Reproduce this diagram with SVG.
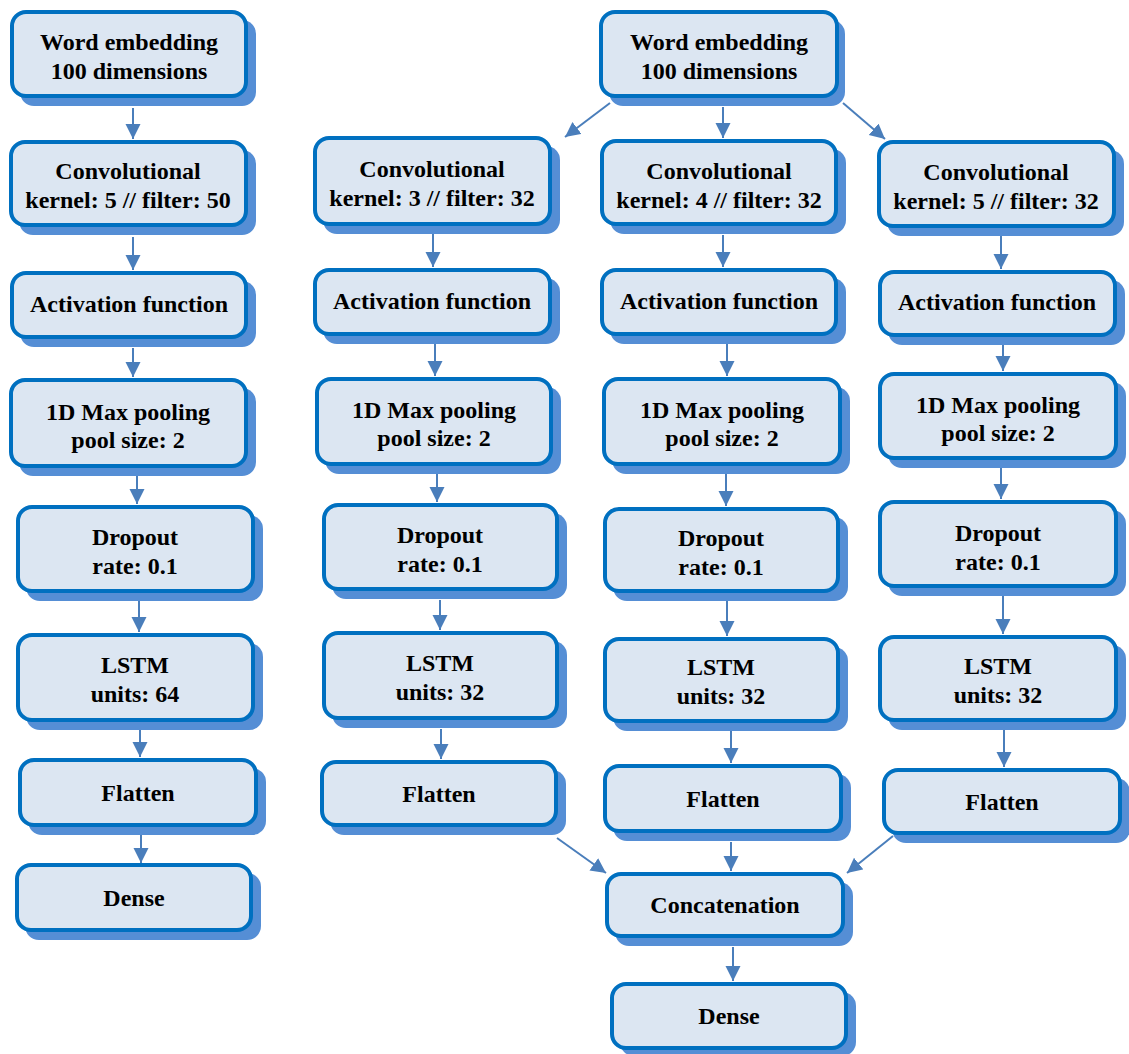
<svg xmlns="http://www.w3.org/2000/svg" width="1129" height="1054" viewBox="0 0 1129 1054">
<style>
.sh{fill:#558ED5;}
.bx{fill:#DCE6F2;stroke:#0070C0;stroke-width:4;}
.t{font-family:"Liberation Serif","Times New Roman",serif;font-weight:bold;font-size:24px;fill:#000;text-anchor:middle;}
.c{stroke:#4A7EBB;stroke-width:2;fill:none;marker-end:url(#ah);}
</style>
<defs>
<marker id="ah" markerUnits="userSpaceOnUse" markerWidth="16" markerHeight="16" refX="15" refY="7.5" orient="auto">
<path d="M0,0 L15,7.5 L0,15 z" fill="#4A7EBB"/>
</marker>
</defs>
<rect width="1129" height="1054" fill="#fff"/>

<g id="connectors">
<line class="c" x1="133" y1="108" x2="133" y2="139"/>
<line class="c" x1="133" y1="237" x2="133" y2="270"/>
<line class="c" x1="133" y1="348" x2="133" y2="377"/>
<line class="c" x1="137" y1="476" x2="137" y2="504"/>
<line class="c" x1="139" y1="601" x2="139" y2="632"/>
<line class="c" x1="140" y1="730" x2="140" y2="757"/>
<line class="c" x1="141" y1="835" x2="141" y2="863"/>

<line class="c" x1="610" y1="103" x2="565" y2="137"/>
<line class="c" x1="433" y1="234" x2="433" y2="267"/>
<line class="c" x1="435" y1="344" x2="435" y2="376"/>
<line class="c" x1="437" y1="474" x2="437" y2="502"/>
<line class="c" x1="440" y1="600" x2="440" y2="630"/>
<line class="c" x1="441" y1="729" x2="441" y2="759"/>

<line class="c" x1="723" y1="107" x2="723" y2="138"/>
<line class="c" x1="723" y1="235" x2="723" y2="267"/>
<line class="c" x1="727" y1="344" x2="727" y2="376"/>
<line class="c" x1="726" y1="474" x2="726" y2="506"/>
<line class="c" x1="727" y1="601" x2="727" y2="636"/>
<line class="c" x1="731" y1="731" x2="731" y2="763"/>

<line class="c" x1="843" y1="103" x2="885" y2="139"/>
<line class="c" x1="1001" y1="236" x2="1001" y2="269"/>
<line class="c" x1="1003" y1="345" x2="1003" y2="371"/>
<line class="c" x1="1001" y1="468" x2="1001" y2="499"/>
<line class="c" x1="1003" y1="596" x2="1003" y2="634"/>
<line class="c" x1="1004" y1="730" x2="1004" y2="767"/>

<line class="c" x1="557" y1="838" x2="606" y2="873"/>
<line class="c" x1="731" y1="842" x2="731" y2="871"/>
<line class="c" x1="893" y1="836" x2="847" y2="873"/>
<line class="c" x1="733" y1="947" x2="733" y2="981"/>
</g>

<!-- Column A -->
<g id="a-word">
<rect class="sh" x="20" y="20" width="236" height="86" rx="14"/>
<rect class="bx" x="12" y="12" width="234" height="84" rx="14"/>
<text class="t" x="129" y="50">Word embedding</text>
<text class="t" x="129" y="79">100 dimensions</text>
</g>
<g id="a-conv">
<rect class="sh" x="19" y="150" width="237" height="85" rx="14"/>
<rect class="bx" x="11" y="142" width="235" height="83" rx="14"/>
<text class="t" x="128" y="179">Convolutional</text>
<text class="t" x="128" y="208">kernel: 5 // filter: 50</text>
</g>
<g id="a-act">
<rect class="sh" x="20" y="281" width="236" height="66" rx="14"/>
<rect class="bx" x="12" y="273" width="234" height="64" rx="14"/>
<text class="t" x="129" y="312">Activation function</text>
</g>
<g id="a-pool">
<rect class="sh" x="19" y="388" width="237" height="88" rx="14"/>
<rect class="bx" x="11" y="380" width="235" height="86" rx="14"/>
<text class="t" x="128" y="420">1D Max pooling</text>
<text class="t" x="128" y="448">pool size: 2</text>
</g>
<g id="a-drop">
<rect class="sh" x="26" y="515" width="237" height="86" rx="14"/>
<rect class="bx" x="18" y="507" width="235" height="84" rx="14"/>
<text class="t" x="135" y="545">Dropout</text>
<text class="t" x="135" y="574">rate: 0.1</text>
</g>
<g id="a-lstm">
<rect class="sh" x="26" y="643" width="237" height="87" rx="14"/>
<rect class="bx" x="18" y="635" width="235" height="85" rx="14"/>
<text class="t" x="135" y="673">LSTM</text>
<text class="t" x="135" y="702">units: 64</text>
</g>
<g id="a-flat">
<rect class="sh" x="28" y="768" width="238" height="67" rx="14"/>
<rect class="bx" x="20" y="760" width="236" height="65" rx="14"/>
<text class="t" x="138" y="801">Flatten</text>
</g>
<g id="a-dense">
<rect class="sh" x="25" y="873" width="236" height="67" rx="14"/>
<rect class="bx" x="17" y="865" width="234" height="65" rx="14"/>
<text class="t" x="134" y="906">Dense</text>
</g>

<!-- Top -->
<g id="word">
<rect class="sh" x="609" y="20" width="236" height="86" rx="14"/>
<rect class="bx" x="601" y="12" width="236" height="84" rx="14"/>
<text class="t" x="719" y="50">Word embedding</text>
<text class="t" x="719" y="79">100 dimensions</text>
</g>

<!-- Column B -->
<g id="b-conv">
<rect class="sh" x="323" y="146" width="237" height="88" rx="14"/>
<rect class="bx" x="315" y="138" width="235" height="86" rx="14"/>
<text class="t" x="432" y="177">Convolutional</text>
<text class="t" x="432" y="206">kernel: 3 // filter: 32</text>
</g>
<g id="b-act">
<rect class="sh" x="323" y="278" width="237" height="66" rx="14"/>
<rect class="bx" x="315" y="270" width="235" height="64" rx="14"/>
<text class="t" x="432" y="309">Activation function</text>
</g>
<g id="b-pool">
<rect class="sh" x="325" y="387" width="236" height="87" rx="14"/>
<rect class="bx" x="317" y="379" width="234" height="85" rx="14"/>
<text class="t" x="434" y="418">1D Max pooling</text>
<text class="t" x="434" y="446">pool size: 2</text>
</g>
<g id="b-drop">
<rect class="sh" x="332" y="513" width="235" height="86" rx="14"/>
<rect class="bx" x="324" y="505" width="233" height="84" rx="14"/>
<text class="t" x="440" y="543">Dropout</text>
<text class="t" x="440" y="572">rate: 0.1</text>
</g>
<g id="b-lstm">
<rect class="sh" x="332" y="641" width="235" height="87" rx="14"/>
<rect class="bx" x="324" y="633" width="233" height="85" rx="14"/>
<text class="t" x="440" y="671">LSTM</text>
<text class="t" x="440" y="700">units: 32</text>
</g>
<g id="b-flat">
<rect class="sh" x="330" y="770" width="236" height="65" rx="14"/>
<rect class="bx" x="322" y="762" width="234" height="63" rx="14"/>
<text class="t" x="439" y="802">Flatten</text>
</g>

<!-- Column C -->
<g id="c-conv">
<rect class="sh" x="610" y="149" width="236" height="85" rx="14"/>
<rect class="bx" x="602" y="141" width="234" height="83" rx="14"/>
<text class="t" x="719" y="179">Convolutional</text>
<text class="t" x="719" y="208">kernel: 4 // filter: 32</text>
</g>
<g id="c-act">
<rect class="sh" x="610" y="278" width="236" height="66" rx="14"/>
<rect class="bx" x="602" y="270" width="234" height="64" rx="14"/>
<text class="t" x="719" y="309">Activation function</text>
</g>
<g id="c-pool">
<rect class="sh" x="612" y="387" width="238" height="87" rx="14"/>
<rect class="bx" x="604" y="379" width="236" height="85" rx="14"/>
<text class="t" x="722" y="418">1D Max pooling</text>
<text class="t" x="722" y="446">pool size: 2</text>
</g>
<g id="c-drop">
<rect class="sh" x="613" y="517" width="235" height="84" rx="14"/>
<rect class="bx" x="605" y="509" width="233" height="82" rx="14"/>
<text class="t" x="721" y="546">Dropout</text>
<text class="t" x="721" y="575">rate: 0.1</text>
</g>
<g id="c-lstm">
<rect class="sh" x="613" y="647" width="235" height="84" rx="14"/>
<rect class="bx" x="605" y="639" width="233" height="82" rx="14"/>
<text class="t" x="721" y="675">LSTM</text>
<text class="t" x="721" y="704">units: 32</text>
</g>
<g id="c-flat">
<rect class="sh" x="613" y="774" width="238" height="67" rx="14"/>
<rect class="bx" x="605" y="766" width="236" height="65" rx="14"/>
<text class="t" x="723" y="807">Flatten</text>
</g>

<!-- Column D -->
<g id="d-conv">
<rect class="sh" x="887" y="150" width="237" height="86" rx="14"/>
<rect class="bx" x="879" y="142" width="235" height="84" rx="14"/>
<text class="t" x="996" y="180">Convolutional</text>
<text class="t" x="996" y="209">kernel: 5 // filter: 32</text>
</g>
<g id="d-act">
<rect class="sh" x="888" y="280" width="237" height="65" rx="14"/>
<rect class="bx" x="880" y="272" width="235" height="63" rx="14"/>
<text class="t" x="997" y="310">Activation function</text>
</g>
<g id="d-pool">
<rect class="sh" x="888" y="382" width="238" height="86" rx="14"/>
<rect class="bx" x="880" y="374" width="236" height="84" rx="14"/>
<text class="t" x="998" y="413">1D Max pooling</text>
<text class="t" x="998" y="441">pool size: 2</text>
</g>
<g id="d-drop">
<rect class="sh" x="888" y="510" width="238" height="86" rx="14"/>
<rect class="bx" x="880" y="502" width="236" height="84" rx="14"/>
<text class="t" x="998" y="541">Dropout</text>
<text class="t" x="998" y="570">rate: 0.1</text>
</g>
<g id="d-lstm">
<rect class="sh" x="888" y="645" width="238" height="85" rx="14"/>
<rect class="bx" x="880" y="637" width="236" height="83" rx="14"/>
<text class="t" x="998" y="674">LSTM</text>
<text class="t" x="998" y="703">units: 32</text>
</g>
<g id="d-flat">
<rect class="sh" x="892" y="778" width="238" height="65" rx="14"/>
<rect class="bx" x="884" y="770" width="236" height="63" rx="14"/>
<text class="t" x="1002" y="810">Flatten</text>
</g>

<!-- Bottom -->
<g id="concat">
<rect class="sh" x="615" y="882" width="238" height="64" rx="14"/>
<rect class="bx" x="607" y="874" width="236" height="62" rx="14"/>
<text class="t" x="725" y="913">Concatenation</text>
</g>
<g id="dense">
<rect class="sh" x="620" y="992" width="236" height="64" rx="14"/>
<rect class="bx" x="612" y="984" width="234" height="64" rx="14"/>
<text class="t" x="729" y="1024">Dense</text>
</g>
</svg>
